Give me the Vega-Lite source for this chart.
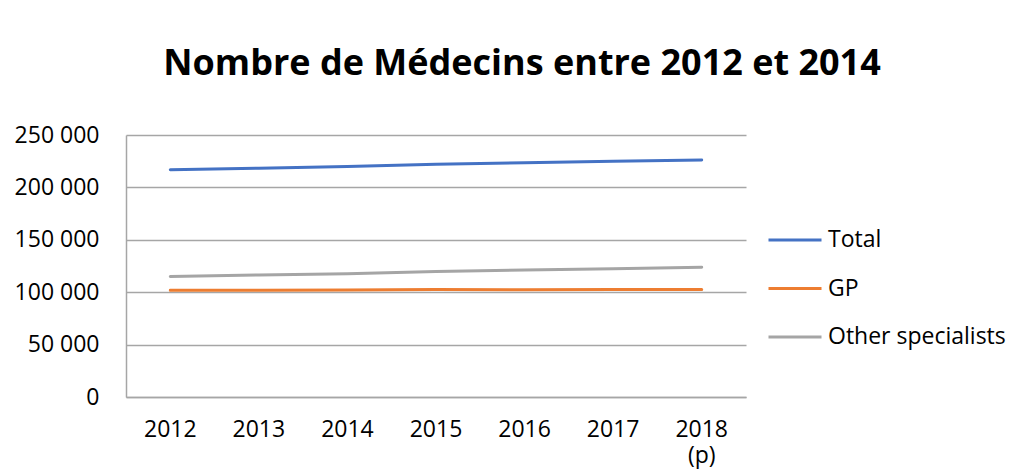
{
  "$schema": "https://vega.github.io/schema/vega-lite/v6.json",
  "autosize": "none",
  "width": 620,
  "height": 262,
  "padding": {"left": 126, "top": 135, "right": 272, "bottom": 77},
  "background": "white",
  "title": {
    "text": "Nombre de Médecins entre 2012 et 2014",
    "font": "Open Sans",
    "fontSize": 36,
    "fontWeight": "bold",
    "color": "#000000",
    "anchor": "middle",
    "frame": "group",
    "baseline": "alphabetic",
    "dx": 86,
    "offset": 13
  },
  "data": {
    "values": [
      {"year": "2012", "series": "Total", "value": 216762},
      {"year": "2013", "series": "Total", "value": 218296},
      {"year": "2014", "series": "Total", "value": 219834},
      {"year": "2015", "series": "Total", "value": 222150},
      {"year": "2016", "series": "Total", "value": 223571},
      {"year": "2017", "series": "Total", "value": 224875},
      {"year": "2018 (p)", "series": "Total", "value": 226219},
      {"year": "2012", "series": "GP", "value": 101803},
      {"year": "2013", "series": "GP", "value": 101896},
      {"year": "2014", "series": "GP", "value": 102140},
      {"year": "2015", "series": "GP", "value": 102485},
      {"year": "2016", "series": "GP", "value": 102299},
      {"year": "2017", "series": "GP", "value": 102466},
      {"year": "2018 (p)", "series": "GP", "value": 102500},
      {"year": "2012", "series": "Other specialists", "value": 114959},
      {"year": "2013", "series": "Other specialists", "value": 116400},
      {"year": "2014", "series": "Other specialists", "value": 117694},
      {"year": "2015", "series": "Other specialists", "value": 119665},
      {"year": "2016", "series": "Other specialists", "value": 121272},
      {"year": "2017", "series": "Other specialists", "value": 122409},
      {"year": "2018 (p)", "series": "Other specialists", "value": 123753}
    ]
  },
  "mark": {"type": "line", "strokeWidth": 3, "strokeCap": "round"},
  "encoding": {
    "x": {
      "field": "year",
      "type": "ordinal",
      "sort": null,
      "scale": {"type": "band", "paddingInner": 0, "paddingOuter": 0},
      "axis": {
        "title": null,
        "labelAngle": 0,
        "labelFont": "Open Sans",
        "labelFontSize": 23,
        "labelColor": "#000000",
        "labelPadding": 21,
        "labelLineHeight": 26,
        "labelExpr": "split(datum.label, ' ')",
        "ticks": false,
        "domain": true,
        "domainColor": "#a6a6a6",
        "domainWidth": 1.5,
        "grid": false
      }
    },
    "y": {
      "field": "value",
      "type": "quantitative",
      "scale": {"domain": [0, 250000], "nice": false},
      "axis": {
        "title": null,
        "values": [0, 50000, 100000, 150000, 200000, 250000],
        "labelFont": "Open Sans",
        "labelFontSize": 23,
        "labelColor": "#000000",
        "labelPadding": 27,
        "labelExpr": "replace(format(datum.value, ','), ',', ' ')",
        "ticks": false,
        "domain": true,
        "domainColor": "#a6a6a6",
        "domainWidth": 1.5,
        "grid": true,
        "gridColor": "#a6a6a6",
        "gridWidth": 1.5
      }
    },
    "color": {
      "field": "series",
      "type": "nominal",
      "scale": {
        "domain": ["Total", "GP", "Other specialists"],
        "range": ["#4472C4", "#ED7D31", "#A5A5A5"]
      },
      "legend": {
        "title": null,
        "orient": "none",
        "legendX": 641,
        "legendY": 77,
        "symbolType": "stroke",
        "symbolSize": 2809,
        "symbolStrokeWidth": 3,
        "labelFont": "Open Sans",
        "labelFontSize": 23,
        "labelColor": "#000000",
        "labelOffset": 5,
        "labelLimit": 400,
        "rowPadding": 8.5
      }
    }
  },
  "config": {
    "view": {"stroke": null}
  }
}
